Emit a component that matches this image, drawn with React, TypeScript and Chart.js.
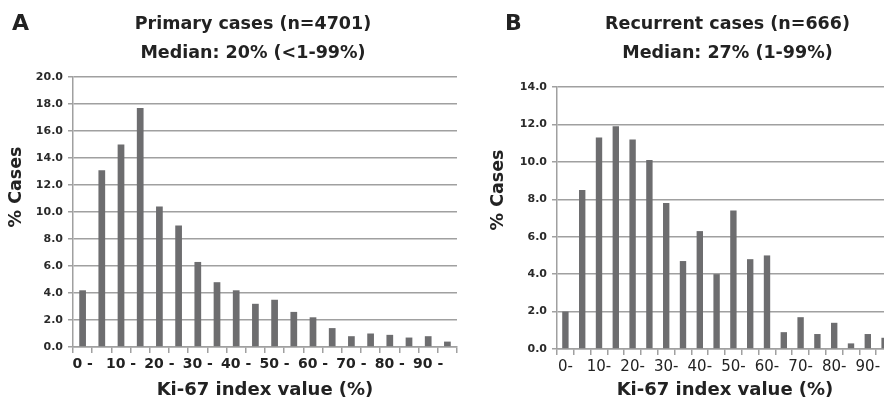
import React, { useEffect, useRef } from "react";
import { Chart, registerables } from "chart.js";

Chart.register(...registerables);

// ---- data ----
const bins = ["0-4", "5-9", "10-14", "15-19", "20-24", "25-29", "30-34", "35-39", "40-44", "45-49",
  "50-54", "55-59", "60-64", "65-69", "70-74", "75-79", "80-84", "85-89", "90-94", "95-99"];

const primaryPct = [4.2, 13.1, 15.0, 17.7, 10.4, 9.0, 6.3, 4.8, 4.2, 3.2, 3.5, 2.6, 2.2, 1.4, 0.8, 1.0, 0.9, 0.7, 0.8, 0.4];
const recurrentPct = [2.0, 8.5, 11.3, 11.9, 11.2, 10.1, 7.8, 4.7, 6.3, 4.0, 7.4, 4.8, 5.0, 0.9, 1.7, 0.8, 1.4, 0.3, 0.8, 0.6];

const tickLabelsA = ["0 -", "", "10 -", "", "20 -", "", "30 -", "", "40 -", "", "50 -", "", "60 -", "", "70 -", "", "80 -", "", "90 -", ""];
const tickLabelsB = ["0-", "", "10-", "", "20-", "", "30-", "", "40-", "", "50-", "", "60-", "", "70-", "", "80-", "", "90-", ""];

const titleA = ["Primary cases (n=4701)", "Median: 20% (<1-99%)"];
const titleB = ["Recurrent cases (n=666)", "Median: 27% (1-99%)"];
const yMaxA = 20;
const yMaxB = 14;
const yTitle = "% Cases";
const xTitle = "Ki-67 index value (%)";

const FONT = '"DejaVu Sans", "Liberation Sans", Arial, sans-serif';
const TEXT = "#222";
const GRID = "#a0a0a0";
const BAR = "#6d6d6f";

const headerPlugin = {
  id: "panelHeader",
  afterDraw(chart: any, _args: any, opts: any) {
    const ctx = chart.ctx;
    ctx.save();
    ctx.fillStyle = TEXT;
    ctx.textBaseline = "alphabetic";
    ctx.textAlign = "left";
    ctx.font = `bold 22px ${FONT}`;
    ctx.fillText(opts.letter, opts.letterX, opts.letterY);
    ctx.font = `bold 17.5px ${FONT}`;
    ctx.textAlign = "center";
    opts.lines.forEach((t: string, i: number) => ctx.fillText(t, opts.titleX, opts.titleY[i]));
    ctx.translate(opts.yTitleX, opts.yTitleY);
    ctx.rotate(-Math.PI / 2);
    ctx.textBaseline = "middle";
    ctx.font = `bold 17.5px ${FONT}`;
    ctx.fillText(opts.yTitle, 0, 0);
    ctx.restore();
  },
};

type PanelProps = {
  values: number[];
  tickLabels: string[];
  yMax: number;
  lines: string[];
  letter: string;
  width: number;
  left: number;
  yAxisWidth: number;
  padTop: number;
  padRight: number;
  xAxisHeight: number;
  barPct: number;
  xTickFont: any;
  header: any;
};

function Panel(p: PanelProps) {
  const ref = useRef<HTMLCanvasElement | null>(null);
  useEffect(() => {
    if (!ref.current) return;
    const chart = new Chart(ref.current, {
      type: "bar",
      data: {
        labels: bins,
        datasets: [
          {
            label: yTitle,
            data: p.values,
            backgroundColor: BAR,
            borderWidth: 0,
            barPercentage: p.barPct,
            categoryPercentage: 1,
          },
        ],
      },
      plugins: [headerPlugin],
      options: {
        animation: false,
        responsive: false,
        maintainAspectRatio: false,
        layout: { padding: { top: p.padTop, right: p.padRight, left: 0, bottom: 0 } },
        plugins: {
          legend: { display: false },
          tooltip: { enabled: false },
          title: { display: false },
          panelHeader: { ...p.header, letter: p.letter, lines: p.lines, yTitle },
        } as any,
        scales: {
          x: {
            offset: true,
            grid: {
              offset: true,
              drawOnChartArea: false,
              drawTicks: true,
              tickLength: 6,
              color: GRID,
              lineWidth: 1.5,
            },
            border: { display: true, color: GRID, width: 1.5 },
            ticks: {
              autoSkip: false,
              maxRotation: 0,
              minRotation: 0,
              padding: 3,
              color: TEXT,
              font: p.xTickFont,
              callback: (_v: any, i: number) => p.tickLabels[i],
            },
            title: {
              display: true,
              text: xTitle,
              color: TEXT,
              font: { family: FONT, size: 18, weight: "bold" },
              padding: { top: 0, bottom: 4 },
            },
            afterFit: (s: any) => {
              s.height = p.xAxisHeight;
            },
          },
          y: {
            min: 0,
            max: p.yMax,
            grid: {
              color: GRID,
              lineWidth: 1.5,
              drawTicks: true,
              tickLength: 5,
            },
            border: { display: true, color: GRID, width: 1.5 },
            ticks: {
              stepSize: 2,
              padding: 5,
              color: "#2a2a2a",
              font: { family: FONT, size: 11, weight: "bold" },
              callback: (v: any) => Number(v).toFixed(1),
            },
            afterFit: (s: any) => {
              s.width = p.yAxisWidth;
            },
          },
        },
      } as any,
    });
    return () => chart.destroy();
  }, []);
  return (
    <canvas
      ref={ref}
      width={p.width}
      height={405}
      style={{ position: "absolute", left: p.left, top: 0, width: p.width, height: 405 }}
    />
  );
}

export default function App() {
  return (
    <div
      style={{
        position: "fixed",
        left: 0,
        top: 0,
        width: 884,
        height: 405,
        overflow: "hidden",
        background: "#fff",
      }}
    >
      <Panel
        values={primaryPct}
        tickLabels={tickLabelsA}
        yMax={yMaxA}
        lines={titleA}
        letter="A"
        width={462}
        left={0}
        yAxisWidth={73}
        padTop={77}
        padRight={5}
        xAxisHeight={58}
        barPct={0.35}
        xTickFont={{ family: FONT, size: 14, weight: "bold" }}
        header={{ letterX: 12, letterY: 30, titleX: 253, titleY: [28.5, 58], yTitleX: 16, yTitleY: 187 }}
      />
      <Panel
        values={recurrentPct}
        tickLabels={tickLabelsB}
        yMax={yMaxB}
        lines={titleB}
        letter="B"
        width={440}
        left={462}
        yAxisWidth={95}
        padTop={87}
        padRight={9}
        xAxisHeight={56}
        barPct={0.38}
        xTickFont={{ family: FONT, size: 15 }}
        header={{ letterX: 43, letterY: 30, titleX: 265.5, titleY: [28.5, 58], yTitleX: 36, yTitleY: 190 }}
      />
    </div>
  );
}
